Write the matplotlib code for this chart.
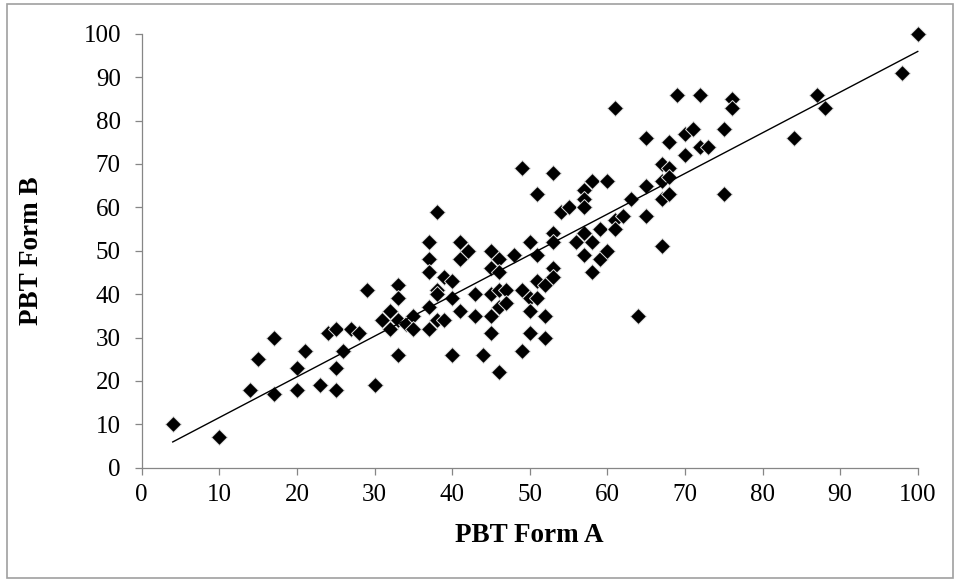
import numpy as np
import matplotlib
matplotlib.use("Agg")
import matplotlib.pyplot as plt
from matplotlib.patches import Rectangle

form_a = [4, 10, 14, 15, 17, 17, 20, 20, 21, 23, 24, 25, 25, 25, 26, 27, 28, 29, 30,
          31, 32, 32, 33, 33, 33, 33, 34, 35, 35,
          37, 37, 37, 37, 37, 38, 38, 38, 38, 39, 39, 40, 40, 40,
          41, 41, 41, 42, 43, 43, 44,
          45, 45, 45, 45, 45, 46, 46, 46, 46, 46, 47, 47, 48,
          49, 49, 49, 50, 50, 50, 50, 51, 51, 51, 51, 52, 52, 52,
          53, 53, 53, 53, 53, 54, 55, 56, 57, 57, 57, 57, 57,
          58, 58, 58, 59, 59, 60, 60, 61, 61, 61, 62, 63, 64,
          65, 65, 65, 67, 67, 67, 67, 68, 68, 68, 68,
          69, 70, 70, 71, 72, 72, 73, 75, 75, 76, 76, 84, 87, 88, 98, 100]
form_b = [10, 7, 18, 25, 30, 17, 18, 23, 27, 19, 31, 32, 23, 18, 27, 32, 31, 41, 19,
          34, 36, 32, 34, 42, 39, 26, 33, 35, 32,
          52, 48, 45, 37, 32, 59, 41, 40, 34, 44, 34, 43, 39, 26,
          52, 48, 36, 50, 40, 35, 26,
          50, 46, 40, 35, 31, 48, 45, 41, 37, 22, 41, 38, 49,
          69, 41, 27, 52, 39, 36, 31, 63, 49, 43, 39, 42, 35, 30,
          68, 54, 52, 46, 44, 59, 60, 52, 64, 62, 60, 54, 49,
          66, 52, 45, 55, 48, 66, 50, 83, 57, 55, 58, 62, 35,
          76, 65, 58, 70, 66, 62, 51, 75, 69, 67, 63,
          86, 77, 72, 78, 86, 74, 74, 78, 63, 85, 83, 76, 86, 83, 91, 100]

x_ticks = list(range(0, 101, 10))
y_ticks = list(range(0, 101, 10))
x_label = "PBT Form A"
y_label = "PBT Form B"

plt.rcParams['font.family'] = ['Liberation Serif', 'DejaVu Serif']

fig = plt.figure(figsize=(9.6, 5.82), dpi=100)
ax = fig.add_axes([0.1476, 0.1964, 0.9560 - 0.1476, 0.9420 - 0.1964])

ax.plot(form_a, form_b, linestyle='none', marker='D', markersize=8.4,
        markerfacecolor='black', markeredgecolor='#e0e0e0', markeredgewidth=0.7,
        zorder=3, clip_on=False)

a = np.array(form_a, dtype=float)
b = np.array(form_b, dtype=float)
slope, intercept = np.polyfit(a, b, 1)
xl = np.array([a.min(), a.max()])
ax.plot(xl, slope * xl + intercept, color='black', linewidth=1.0, zorder=4, clip_on=False)

ax.set_xlim(0, 100)
ax.set_ylim(0, 100)
ax.set_xticks(x_ticks)
ax.set_yticks(y_ticks)
ax.tick_params(axis='both', direction='out', length=5, width=0.9, color='#868686',
               labelsize=18)
ax.tick_params(axis='x', pad=7)
ax.tick_params(axis='y', pad=10)
for s in ['top', 'right']:
    ax.spines[s].set_visible(False)
for s in ['left', 'bottom']:
    ax.spines[s].set_color('#868686')
    ax.spines[s].set_linewidth(0.9)

ax.set_xlabel(x_label, fontsize=19.5, fontweight='bold', labelpad=12)
ax.set_ylabel(y_label, fontsize=19.5, fontweight='bold', labelpad=28)

fig.patches.append(Rectangle((7 / 960, 4 / 582), (953 - 7) / 960, (578 - 4) / 582,
                             transform=fig.transFigure, fill=False,
                             edgecolor='#a0a0a0', linewidth=1.2))

fig.savefig("out.png", dpi=100)
